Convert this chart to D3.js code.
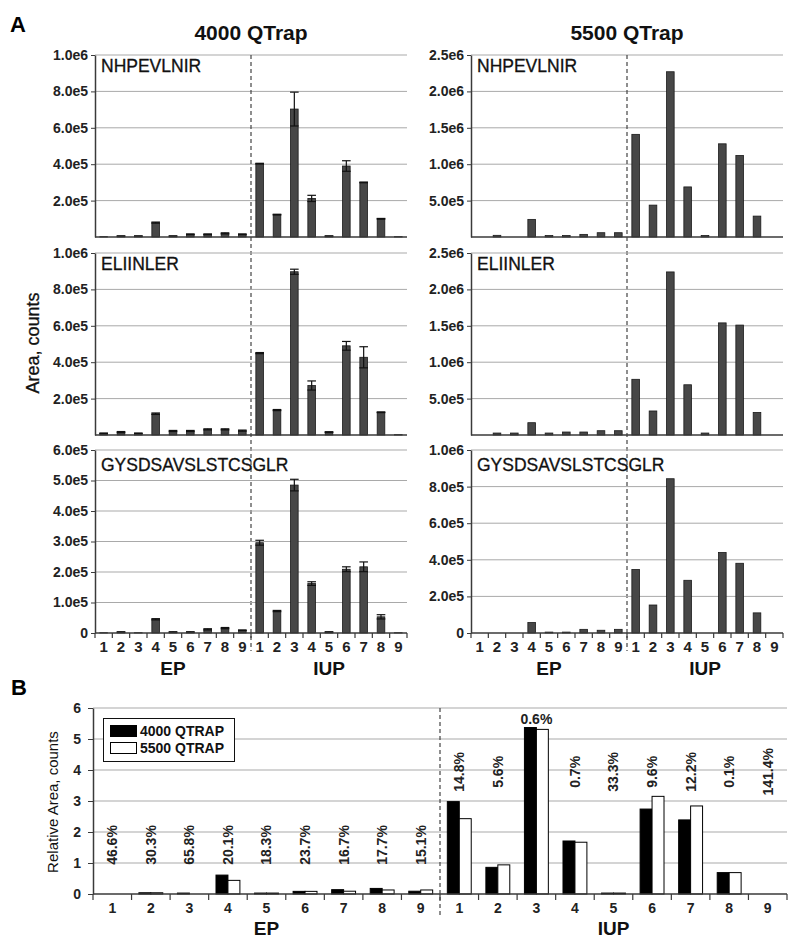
<!DOCTYPE html>
<html>
<head>
<meta charset="utf-8">
<script src="https://cdn.jsdelivr.net/npm/d3@7"></script>
<style>
body { margin: 0; background: #fff; }
svg { display: block; font-family: "Liberation Sans", Arial, sans-serif; }
</style>
</head>
<body>
<script>
const sites = ["1", "2", "3", "4", "5", "6", "7", "8", "9"];
const groups = ["EP", "IUP"];
const peptides = ["NHPEVLNIR", "ELIINLER", "GYSDSAVSLSTCSGLR"];
const instruments = ["4000 QTrap", "5500 QTrap"];

// Peak areas, EP 1-9 then IUP 1-9
const q4000_NHPEVLNIR = [2000, 5000, 5000, 79000, 5000, 15000, 15000, 20000, 15000,
                         403000, 123000, 703000, 212000, 5000, 390000, 300000, 100000, 2000];
const q4000_NHPEVLNIR_err = [0, 1000, 1000, 3000, 1000, 2000, 2000, 3000, 2000,
                             2000, 2000, 93000, 17000, 1000, 29000, 2000, 2000, 0];
const q4000_ELIINLER = [9000, 16000, 9000, 117000, 22000, 22000, 31000, 31000, 24000,
                        450000, 137000, 897000, 272000, 16000, 490000, 427000, 125000, 2000];
const q4000_ELIINLER_err = [2000, 3000, 2000, 4000, 3000, 3000, 3000, 3000, 3000,
                            3000, 3000, 14000, 25000, 2000, 24000, 58000, 2000, 0];
const q4000_GYSD = [1000, 3000, 1000, 45000, 3000, 3000, 12000, 16000, 9000,
                    296000, 72000, 485000, 162000, 3000, 209000, 217000, 53000, 1000];
const q4000_GYSD_err = [0, 1000, 0, 2000, 1000, 1000, 2000, 2000, 1000,
                        8000, 2000, 19000, 6000, 1000, 8000, 16000, 7000, 0];

const q5500_NHPEVLNIR = [0, 23000, 0, 242000, 20000, 20000, 36000, 59000, 59000,
                         1410000, 438000, 2270000, 688000, 20000, 1280000, 1120000, 287000, 0];
const q5500_ELIINLER = [0, 27000, 27000, 169000, 27000, 41000, 41000, 59000, 59000,
                        765000, 330000, 2240000, 690000, 27000, 1540000, 1510000, 310000, 0];
const q5500_GYSD = [0, 0, 0, 57000, 5000, 5000, 20000, 15000, 20000,
                    347000, 153000, 843000, 288000, 0, 440000, 381000, 110000, 0];

const ticks4000 = [[2e5, 4e5, 6e5, 8e5, 1e6], [2e5, 4e5, 6e5, 8e5, 1e6], [0, 1e5, 2e5, 3e5, 4e5, 5e5, 6e5]];
const ticks5500 = [[5e5, 1e6, 1.5e6, 2e6, 2.5e6], [5e5, 1e6, 1.5e6, 2e6, 2.5e6], [0, 2e5, 4e5, 6e5, 8e5, 1e6]];

// Panel B: relative area and CV labels
const rel4000 = [0, 0.04, 0.03, 0.61, 0.03, 0.085, 0.14, 0.18, 0.09,
                 2.98, 0.86, 5.37, 1.71, 0.03, 2.74, 2.39, 0.69, 0];
const rel5500 = [0, 0.04, 0, 0.44, 0.03, 0.085, 0.09, 0.13, 0.13,
                 2.43, 0.94, 5.31, 1.67, 0.03, 3.15, 2.84, 0.69, 0];
const cvLabels = ["46.6%", "30.3%", "65.8%", "20.1%", "18.3%", "23.7%", "16.7%", "17.7%", "15.1%",
                  "14.8%", "5.6%", "0.6%", "0.7%", "33.3%", "9.6%", "12.2%", "0.1%", "141.4%"];
const relTicks = [0, 1, 2, 3, 4, 5, 6];
const legendLabels = ["4000 QTRAP", "5500 QTRAP"];

const keys = groups.flatMap(g => sites.map(s => g + s));

const svg = d3.select("body").append("svg")
    .attr("width", 799)
    .attr("height", 946);

const gridColor = "#a9a9a9";
const axisColor = "#3a3a3a";
const fmt = d => d === 0 ? "0" : d.toExponential(1).replace("+", "");

// panel A layout
const cols = [{ x0: 95, x1: 407 }, { x0: 471, x1: 783 }];
const rows = [{ top: 55, bottom: 237, lab: 17 }, { top: 253, bottom: 435, lab: 17 }, { top: 450, bottom: 633, lab: 21 }];

const panels = [
    { col: 0, row: 0, values: q4000_NHPEVLNIR, err: q4000_NHPEVLNIR_err, ticks: ticks4000[0] },
    { col: 0, row: 1, values: q4000_ELIINLER, err: q4000_ELIINLER_err, ticks: ticks4000[1] },
    { col: 0, row: 2, values: q4000_GYSD, err: q4000_GYSD_err, ticks: ticks4000[2] },
    { col: 1, row: 0, values: q5500_NHPEVLNIR, err: null, ticks: ticks5500[0] },
    { col: 1, row: 1, values: q5500_ELIINLER, err: null, ticks: ticks5500[1] },
    { col: 1, row: 2, values: q5500_GYSD, err: null, ticks: ticks5500[2] }
];

function drawPanel(p) {
    const c = cols[p.col], r = rows[p.row];
    const g = svg.append("g");
    const x = d3.scaleBand().domain(keys).range([c.x0, c.x1]);
    const y = d3.scaleLinear().domain([0, d3.max(p.ticks)]).range([r.bottom, r.top]);
    const bw = x.bandwidth() * 0.44;

    // gridlines
    g.selectAll(".grid").data(p.ticks.filter(t => t > 0)).enter().append("line")
        .attr("x1", c.x0).attr("x2", c.x1)
        .attr("y1", d => y(d)).attr("y2", d => y(d))
        .attr("stroke", gridColor).attr("stroke-width", 1);

    // bars
    g.selectAll(".bar").data(p.values).enter().append("rect")
        .attr("x", (d, i) => x(keys[i]) + (x.bandwidth() - bw) / 2)
        .attr("y", d => y(d))
        .attr("width", bw)
        .attr("height", d => y(0) - y(d))
        .attr("fill", "#474747")
        .attr("stroke", "#1a1a1a")
        .attr("stroke-width", d => d > 0 ? 0.8 : 0);

    // error bars
    if (p.err) {
        p.values.forEach((v, i) => {
            const e = p.err[i];
            if (!e || !v) return;
            const cx = x(keys[i]) + x.bandwidth() / 2;
            const eg = g.append("g").attr("stroke", "#111").attr("stroke-width", 1.2);
            eg.append("line").attr("x1", cx).attr("x2", cx).attr("y1", y(v + e)).attr("y2", y(Math.max(0, v - e)));
            [v + e, Math.max(0, v - e)].forEach(t => {
                eg.append("line").attr("x1", cx - bw / 2 - 0.5).attr("x2", cx + bw / 2 + 0.5)
                    .attr("y1", y(t)).attr("y2", y(t));
            });
        });
    }

    // y axis
    const ya = g.append("g").attr("transform", `translate(${c.x0},0)`)
        .call(d3.axisLeft(y).tickValues(p.ticks).tickSize(4).tickSizeOuter(0).tickPadding(3)
            .tickFormat(d => (p.row < 2 && d === 0) ? "" : fmt(d)));
    ya.select(".domain").attr("stroke", axisColor).attr("stroke-width", 1.5);
    ya.selectAll(".tick line").attr("stroke", axisColor);
    ya.selectAll("text").attr("font-size", 14).attr("font-weight", "bold").attr("fill", "#222")
        .attr("font-family", "Liberation Sans, Arial, sans-serif");

    // x axis line
    g.append("line").attr("x1", c.x0).attr("x2", c.x1)
        .attr("y1", y(0)).attr("y2", y(0))
        .attr("stroke", axisColor).attr("stroke-width", 1.5);

    if (p.row === 2) {
        const bounds = keys.map(k => x(k)).concat([c.x1]);
        g.selectAll(".xt").data(bounds).enter().append("line")
            .attr("x1", d => d).attr("x2", d => d)
            .attr("y1", y(0)).attr("y2", y(0) + 5)
            .attr("stroke", axisColor).attr("stroke-width", 1.2);
        g.selectAll(".xl").data(keys).enter().append("text")
            .attr("x", d => x(d) + x.bandwidth() / 2)
            .attr("y", y(0) + 19)
            .attr("text-anchor", "middle")
            .attr("font-size", 15).attr("font-weight", "bold").attr("fill", "#222")
            .text(d => d.slice(-1));
        groups.forEach(gr => {
            const first = x(gr + "1"), last = x(gr + "9") + x.bandwidth();
            g.append("text")
                .attr("x", (first + last) / 2)
                .attr("y", y(0) + 42)
                .attr("text-anchor", "middle")
                .attr("font-size", 19).attr("font-weight", "bold").attr("fill", "#111")
                .text(gr);
        });
    }

    // peptide name
    g.append("text")
        .attr("x", c.x0 + 6)
        .attr("y", r.top + r.lab)
        .attr("font-size", 17.5).attr("fill", "#111")
        .attr("stroke", "#111").attr("stroke-width", 0.3)
        .text(peptides[p.row]);

    return x;
}

panels.forEach(p => {
    const x = drawPanel(p);
    if (p.row === 0) {
        const xd = x("IUP1");
        svg.append("line")
            .attr("x1", xd).attr("x2", xd)
            .attr("y1", rows[0].top).attr("y2", rows[2].bottom + 18)
            .attr("stroke", "#444").attr("stroke-width", 1.2)
            .attr("stroke-dasharray", "4,3");
    }
});

// titles
cols.forEach((c, i) => {
    svg.append("text")
        .attr("x", (c.x0 + c.x1) / 2)
        .attr("y", 40)
        .attr("text-anchor", "middle")
        .attr("font-size", 21).attr("font-weight", "bold").attr("fill", "#111")
        .text(instruments[i]);
});

svg.append("text").attr("x", 10).attr("y", 32)
    .attr("font-size", 22).attr("font-weight", "bold").text("A");
svg.append("text").attr("x", 11).attr("y", 695)
    .attr("font-size", 22).attr("font-weight", "bold").text("B");

svg.append("text")
    .attr("transform", "translate(39,343) rotate(-90)")
    .attr("text-anchor", "middle")
    .attr("font-size", 18).attr("fill", "#111")
    .attr("stroke", "#111").attr("stroke-width", 0.3)
    .text("Area, counts");

// ---- Panel B ----
const bx0 = 93, bx1 = 787, btop = 708, bbot = 894;
const xb = d3.scaleBand().domain(keys).range([bx0, bx1]);
const yb = d3.scaleLinear().domain([0, 6]).range([bbot, btop]);
const gb = svg.append("g");

gb.selectAll(".grid").data(relTicks.filter(t => t > 0)).enter().append("line")
    .attr("x1", bx0).attr("x2", bx1)
    .attr("y1", d => yb(d)).attr("y2", d => yb(d))
    .attr("stroke", gridColor).attr("stroke-width", 1);

const sub = xb.bandwidth() * 0.31;
[rel4000, rel5500].forEach((vals, si) => {
    gb.selectAll(".b" + si).data(vals).enter().append("rect")
        .attr("x", (d, i) => xb(keys[i]) + xb.bandwidth() / 2 - sub + si * sub)
        .attr("y", d => yb(d))
        .attr("width", sub)
        .attr("height", d => yb(0) - yb(d))
        .attr("fill", si === 0 ? "#000" : "#fff")
        .attr("stroke", "#000")
        .attr("stroke-width", d => d > 0 ? 1 : 0);
});

const yba = gb.append("g").attr("transform", `translate(${bx0},0)`)
    .call(d3.axisLeft(yb).tickValues(relTicks).tickSize(5).tickSizeOuter(0).tickPadding(7)
        .tickFormat(d3.format("d")));
yba.select(".domain").attr("stroke", axisColor).attr("stroke-width", 1.5);
yba.selectAll(".tick line").attr("stroke", axisColor);
yba.selectAll("text").attr("font-size", 14).attr("font-weight", "bold").attr("fill", "#222")
    .attr("font-family", "Liberation Sans, Arial, sans-serif");

gb.append("line").attr("x1", bx0).attr("x2", bx1)
    .attr("y1", yb(0)).attr("y2", yb(0))
    .attr("stroke", axisColor).attr("stroke-width", 1.5);

gb.selectAll(".xt").data(keys.map(k => xb(k)).concat([bx1])).enter().append("line")
    .attr("x1", d => d).attr("x2", d => d)
    .attr("y1", yb(0)).attr("y2", yb(0) + 6)
    .attr("stroke", axisColor).attr("stroke-width", 1.2);

gb.selectAll(".xl").data(keys).enter().append("text")
    .attr("x", d => xb(d) + xb.bandwidth() / 2)
    .attr("y", yb(0) + 19)
    .attr("text-anchor", "middle")
    .attr("font-size", 14).attr("font-weight", "bold").attr("fill", "#222")
    .text(d => d.slice(-1));

groups.forEach(gr => {
    const first = xb(gr + "1"), last = xb(gr + "9") + xb.bandwidth();
    gb.append("text")
        .attr("x", (first + last) / 2)
        .attr("y", yb(0) + 41)
        .attr("text-anchor", "middle")
        .attr("font-size", 19).attr("font-weight", "bold").attr("fill", "#111")
        .text(gr);
});

// CV labels
cvLabels.forEach((lab, i) => {
    const cx = xb(keys[i]) + xb.bandwidth() / 2;
    const top = Math.max(rel4000[i], rel5500[i]);
    if (top > 4.5) {
        gb.append("text")
            .attr("x", cx).attr("y", yb(top) - 4)
            .attr("text-anchor", "middle")
            .attr("font-size", 14).attr("font-weight", "bold").attr("fill", "#222")
            .text(lab);
    } else {
        const cy = i < 9 ? yb(1.58) : yb(3.94);
        gb.append("text")
            .attr("transform", `translate(${cx},${cy}) rotate(-90)`)
            .attr("text-anchor", "middle")
            .attr("dy", "0.35em")
            .attr("font-size", 14).attr("font-weight", "bold").attr("fill", "#222")
            .text(lab);
    }
});

// dashed separator
const xdb = xb("IUP1");
gb.append("line")
    .attr("x1", xdb).attr("x2", xdb)
    .attr("y1", btop).attr("y2", bbot + 21)
    .attr("stroke", "#444").attr("stroke-width", 1.2)
    .attr("stroke-dasharray", "4,3");

// legend
const lg = gb.append("g");
lg.append("rect").attr("x", 103.5).attr("y", 718.5).attr("width", 131).attr("height", 43)
    .attr("fill", "#fff").attr("stroke", "#111").attr("stroke-width", 1);
legendLabels.forEach((lab, i) => {
    lg.append("rect").attr("x", 110.5).attr("y", 725.5 + i * 17).attr("width", 26).attr("height", 11)
        .attr("fill", i === 0 ? "#000" : "#fff").attr("stroke", "#000").attr("stroke-width", 1);
    lg.append("text").attr("x", 140).attr("y", 736 + i * 17)
        .attr("font-size", 14).attr("font-weight", "bold").attr("fill", "#111")
        .text(lab);
});

svg.append("text")
    .attr("transform", "translate(53,802) rotate(-90)")
    .attr("text-anchor", "middle")
    .attr("dy", "0.35em")
    .attr("font-size", 15).attr("fill", "#111")
    .text("Relative Area, counts");
</script>
</body>
</html>
